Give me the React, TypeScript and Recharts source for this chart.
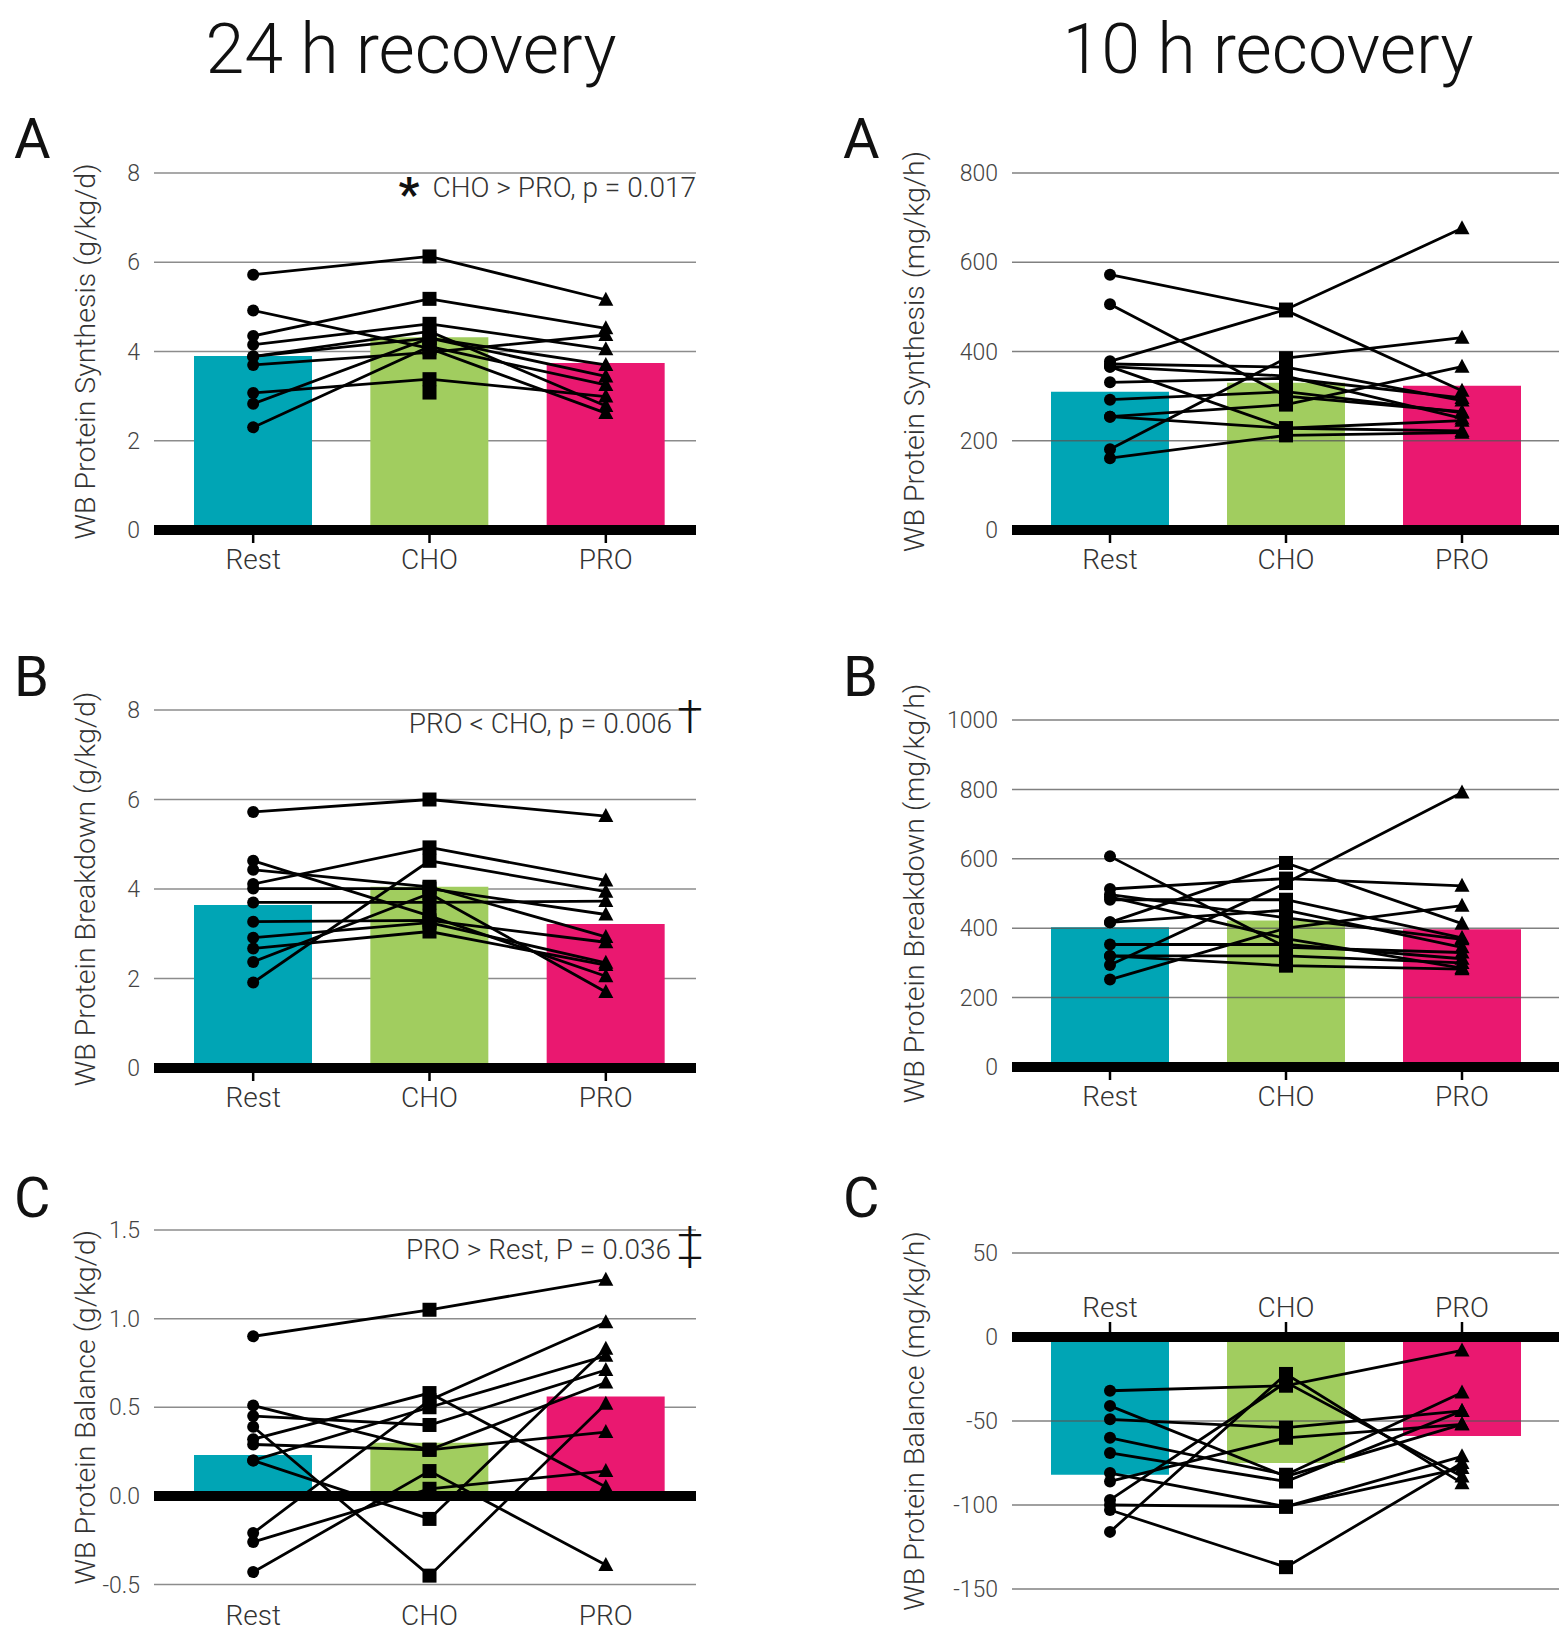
/* ── Whole-body protein turnover — 24 h vs 10 h recovery panels ───────── */

import { ComposedChart, Bar, Line, XAxis, YAxis, CartesianGrid, ReferenceLine, Cell } from 'recharts';

const FONT = 'Roboto, "Open Sans", sans-serif';
const categories = ['Rest', 'CHO', 'PRO'];
const barColors = ['#00A5B5', '#A1CD5F', '#EA1870'];

/* 24 h recovery — g/kg/d */
const synth24Means = [3.9, 4.32, 3.74];
const synth24 = [
  [5.72, 6.13, 5.16], [4.92, 4.07, 2.62], [4.35, 5.18, 4.52], [4.15, 4.62, 4.05],
  [3.89, 4.3, 3.44], [3.7, 3.98, 4.37], [3.07, 3.38, 2.99], [2.83, 4.3, 3.7],
  [2.3, 4.11, 3.25], [3.89, 4.45, 2.78], [null, 3.08, null],
];
const break24Means = [3.64, 4.05, 3.22];
const break24 = [
  [5.72, 6.0, 5.63], [4.11, 4.93, 4.19], [1.91, 4.63, 3.94], [4.63, 3.4, 2.05],
  [4.43, 4.05, 2.93], [4.01, 4.01, 3.43], [3.7, 3.7, 3.73], [3.27, 3.3, 2.81],
  [2.91, 3.25, 2.35], [2.67, 3.05, 2.3], [2.37, 3.9, 1.7],
];
const bal24Means = [0.23, 0.3, 0.56];
const bal24 = [
  [0.9, 1.05, 1.22], [0.51, 0.26, 0.36], [0.45, 0.4, 0.71], [0.39, -0.45, 0.52],
  [0.32, 0.58, 0.05], [0.29, 0.26, 0.64], [0.2, 0.5, 0.79], [0.2, -0.13, 0.83],
  [-0.21, 0.54, 0.98], [-0.26, 0.04, 0.14], [-0.43, 0.14, -0.39],
];

/* 10 h recovery — mg/kg/h */
const synth10Means = [310, 330, 323];
const synth10 = [
  [572, 492, 312], [506, 300, 265], [378, 494, 676], [372, 365, 290],
  [366, 345, 250], [331, 340, 296], [292, 310, 263], [254, 228, 245],
  [181, 385, 431], [161, 212, 218], [254, 281, 366], [366, 228, 222],
];
const break10Means = [403, 422, 397];
const break10 = [
  [607, 345, 330], [513, 543, 522], [497, 430, 368], [482, 482, 372],
  [417, 588, 413], [417, 452, 345], [353, 353, 312], [320, 320, 300],
  [294, 530, 791], [252, 400, 465], [320, 292, 282], [490, 370, 285],
];
const bal10Means = [-82, -75, -59];
const bal10 = [
  [-32, -29, -8], [-41, -83, -52], [-49, -54, -44], [-60, -82, -33],
  [-69, -86, -44], [-81, -101, -78], [-86, -60, -52], [-97, -27, -83],
  [-100, -101, -71], [-103, -137, -75], [-116, -22, -87],
];

const ticks24 = [0, 2, 4, 6, 8];
const ticksBal24 = [-0.5, 0, 0.5, 1, 1.5];
const ticksSynth10 = [0, 200, 400, 600, 800];
const ticksBreak10 = [0, 200, 400, 600, 800, 1000];
const ticksBal10 = [-150, -100, -50, 0, 50];

const MT = 45;

function buildRows(means: number[], parts: (number | null)[][]) {
  return categories.map((cat, i) => {
    const row: any = { cat, mean: means[i] };
    parts.forEach((p, j) => { row[`p${j}`] = p[i]; });
    return row;
  });
}

/* circle / square / triangle by category */
function renderMarker(p: any) {
  const { cx, cy, index, value, dataKey } = p;
  const key = `${dataKey}-${index}`;
  if (cx == null || cy == null || value == null || Number.isNaN(cy)) return <g key={key} />;
  if (index === 0) return <circle key={key} cx={cx} cy={cy} r={6} fill="#000" />;
  if (index === 1) return <rect key={key} x={cx - 7} y={cy - 7} width={14} height={14} fill="#000" />;
  return <path key={key} d={`M${cx},${cy - 8} L${cx + 7.5},${cy + 6} L${cx - 7.5},${cy + 6} Z`} fill="#000" />;
}

type PanelProps = {
  left: number; width: number; ml: number; yw: number; mr: number;
  plotTop: number; plotBottom: number; mb: number;
  domain: [number, number]; ticks: number[]; fmt?: (v: number) => string;
  means: number[]; parts: (number | null)[][];
  yLabel: string; labelMode: 'below' | 'bottom' | 'above'; gridOver: boolean;
  pad: { left: number; right: number };
};

function Panel(p: PanelProps) {
  const plotH = p.plotBottom - p.plotTop;
  const height = plotH + MT + p.mb;
  const zeroY = MT + (p.domain[1] / (p.domain[1] - p.domain[0])) * plotH;
  const bottomY = MT + plotH;
  const data = buildRows(p.means, p.parts);

  const XTick = (t: any) => {
    const { x, payload } = t;
    const ty = p.labelMode === 'above' ? zeroY - 20 : p.labelMode === 'bottom' ? bottomY + 40 : zeroY + 39;
    return (
      <g>
        {p.labelMode === 'below' && <line x1={x} x2={x} y1={zeroY} y2={zeroY + 13} stroke="#000" strokeWidth={2.5} />}
        {p.labelMode === 'above' && <line x1={x} x2={x} y1={zeroY - 15} y2={zeroY} stroke="#000" strokeWidth={2.5} />}
        <text x={x} y={ty} textAnchor="middle" fill="#333" fontSize={28} fontWeight={300} fontFamily={FONT}>
          {payload.value}
        </text>
      </g>
    );
  };

  return (
    <div style={{ position: 'absolute', left: p.left, top: p.plotTop - MT }}>
      <ComposedChart
        width={p.width}
        height={height}
        data={data}
        margin={{ top: MT, right: p.mr, bottom: 0, left: p.ml }}
      >
        {!p.gridOver && <CartesianGrid horizontal vertical={false} stroke="#8c8c8c" strokeWidth={1.5} />}
        <XAxis
          dataKey="cat"
          height={p.mb}
          axisLine={false}
          tickLine={false}
          interval={0}
          padding={p.pad}
          tick={XTick}
        />
        <YAxis
          type="number"
          domain={p.domain}
          ticks={p.ticks}
          interval={0}
          allowDataOverflow
          width={p.yw}
          axisLine={false}
          tickLine={false}
          tickSize={6}
          tickMargin={8}
          tickFormatter={p.fmt || ((v: number) => String(v))}
          tick={{ fill: '#444', fontSize: 23, fontWeight: 300, fontFamily: FONT }}
          label={{
            value: p.yLabel, angle: -90, position: 'center',
            style: { fill: '#333', fontSize: 28.5, fontWeight: 300, fontFamily: FONT },
          }}
        />
        <Bar dataKey="mean" barSize={118} isAnimationActive={false}>
          {data.map((_: any, i: number) => <Cell key={i} fill={barColors[i]} />)}
        </Bar>
        {p.gridOver && p.ticks.filter((t) => t !== 0).map((t) => (
          <ReferenceLine key={`g${t}`} y={t} stroke="#555" strokeOpacity={0.75} strokeWidth={1.5} />
        ))}
        <ReferenceLine y={0} stroke="#000" strokeWidth={10} />
        {p.parts.map((_, j) => (
          <Line
            key={j}
            type="linear"
            dataKey={`p${j}`}
            stroke="#000"
            strokeWidth={2.8}
            dot={renderMarker}
            activeDot={false}
            connectNulls={false}
            isAnimationActive={false}
          />
        ))}
      </ComposedChart>
    </div>
  );
}

const LEFT = { left: 0, width: 720, ml: 16, yw: 138, mr: 24, pad: { left: 11, right: 2 }, gridOver: false };
const RIGHT = { left: 800, width: 759, ml: 16, yw: 196, mr: 0, pad: { left: 10, right: 9 }, gridOver: true };

export default function App() {
  const txt = { fill: '#222', fontFamily: FONT, fontWeight: 300 } as const;
  return (
    <div style={{ position: 'absolute', left: 0, top: 0, width: 1559, height: 1633, overflow: 'hidden', background: '#fff' }}>
      {/* ── 24 h recovery ─────────────────────────────────────────── */}
      <Panel {...LEFT} plotTop={173} plotBottom={530} mb={60} domain={[0, 8]} ticks={ticks24}
        means={synth24Means} parts={synth24} yLabel="WB Protein Synthesis (g/kg/d)" labelMode="below" />
      <Panel {...LEFT} plotTop={710} plotBottom={1068} mb={60} domain={[0, 8]} ticks={ticks24}
        means={break24Means} parts={break24} yLabel="WB Protein Breakdown (g/kg/d)" labelMode="below" />
      <Panel {...LEFT} plotTop={1230} plotBottom={1584.5} mb={48} domain={[-0.5, 1.5]} ticks={ticksBal24}
        fmt={(v) => v.toFixed(1)} means={bal24Means} parts={bal24} yLabel="WB Protein Balance (g/kg/d)" labelMode="bottom" />

      {/* ── 10 h recovery ─────────────────────────────────────────── */}
      <Panel {...RIGHT} plotTop={173} plotBottom={530} mb={60} domain={[0, 800]} ticks={ticksSynth10}
        means={synth10Means} parts={synth10} yLabel="WB Protein Synthesis (mg/kg/h)" labelMode="below" />
      <Panel {...RIGHT} plotTop={720} plotBottom={1067} mb={60} domain={[0, 1000]} ticks={ticksBreak10}
        means={break10Means} parts={break10} yLabel="WB Protein Breakdown (mg/kg/h)" labelMode="below" />
      <Panel {...RIGHT} plotTop={1253} plotBottom={1589} mb={40} domain={[-150, 50]} ticks={ticksBal10}
        means={bal10Means} parts={bal10} yLabel="WB Protein Balance (mg/kg/h)" labelMode="above" />

      {/* ── titles, panel letters, annotations ────────────────────── */}
      <svg width={1559} height={1633} style={{ position: 'absolute', left: 0, top: 0, pointerEvents: 'none' }}>
        <text x={411} y={73} textAnchor="middle" fontSize={70} {...txt} fill="#111">24 h recovery</text>
        <text x={1268} y={73} textAnchor="middle" fontSize={70} {...txt} fill="#111">10 h recovery</text>

        <text x={14} y={158} fontSize={56} {...txt} fill="#111" fontWeight={400}>A</text>
        <text x={14} y={696} fontSize={56} {...txt} fill="#111" fontWeight={400}>B</text>
        <text x={14} y={1217} fontSize={56} {...txt} fill="#111" fontWeight={400}>C</text>
        <text x={843} y={158} fontSize={56} {...txt} fill="#111" fontWeight={400}>A</text>
        <text x={843} y={696} fontSize={56} {...txt} fill="#111" fontWeight={400}>B</text>
        <text x={843} y={1217} fontSize={56} {...txt} fill="#111" fontWeight={400}>C</text>

        <text x={409} y={210} textAnchor="middle" fontSize={46} fontFamily={FONT} fontWeight={700} fill="#111">*</text>
        <text x={696} y={197} textAnchor="end" fontSize={28} {...txt} fill="#333">CHO &gt; PRO, p = 0.017</text>

        <text x={672} y={733} textAnchor="end" fontSize={28} {...txt} fill="#333">PRO &lt; CHO, p = 0.006</text>
        <text x={690} y={733} textAnchor="middle" fontSize={46} fontFamily={FONT} fontWeight={300} fill="#111">†</text>

        <text x={671} y={1259} textAnchor="end" fontSize={28} {...txt} fill="#333">PRO &gt; Rest, P = 0.036</text>
        <text x={690} y={1259} textAnchor="middle" fontSize={46} fontFamily={FONT} fontWeight={300} fill="#111">‡</text>
      </svg>
    </div>
  );
}
